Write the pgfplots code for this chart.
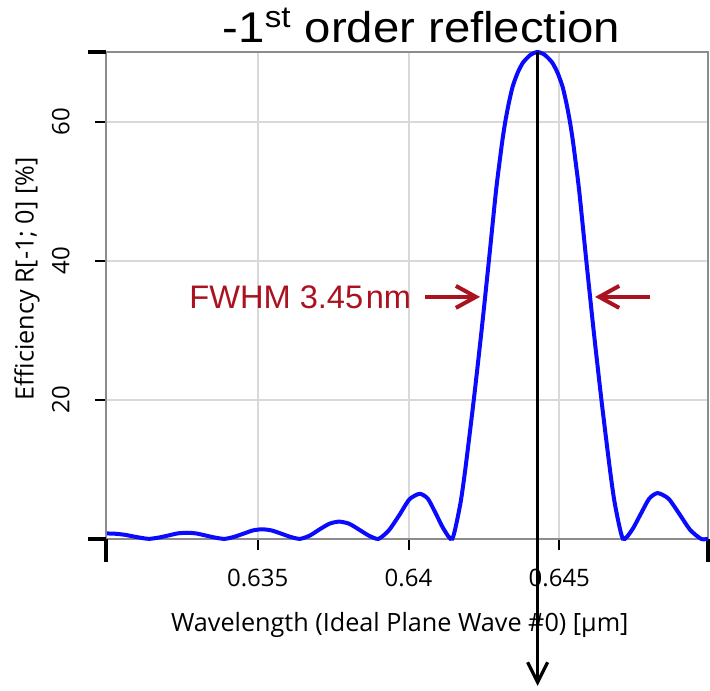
\documentclass[border=0pt]{standalone}
\usepackage{pgfplots}
\pgfplotsset{compat=1.18}
\usetikzlibrary{arrows.meta}
\usepackage{fontspec}
\setmainfont{Open Sans}
\newfontfamily\arial{Liberation Sans}
\definecolor{fwhmred}{RGB}{170,18,32}
\definecolor{curveblue}{RGB}{10,10,255}
\definecolor{gridgray}{RGB}{217,217,217}
\definecolor{axisgray}{RGB}{140,140,140}

\begin{document}
\begin{tikzpicture}
\path[use as bounding box] (-53pt,-75.5pt) rectangle (302pt,269.5pt);
\begin{axis}[
  at={(0,0)}, anchor=south west,
  width=301pt, height=243.5pt, scale only axis,
  xmin=0.62997, xmax=0.64993, ymin=0, ymax=70,
  xtick={0.635,0.64,0.645}, xticklabels={0.635,0.64,0.645},
  ytick={20,40,60}, yticklabels={20,40,60},
  scaled x ticks=false,
  /pgf/number format/assume math mode=true,
  grid=major, grid style={gridgray, line width=1pt},
  axis line style={axisgray, line width=1.2pt},
  tick pos=left, tick align=outside, major tick length=5.5pt,
  tick style={black, line width=1pt},
  extra x ticks={0.62997,0.64993}, extra x tick labels={},
  extra y ticks={0,70}, extra y tick labels={},
  extra x tick style={grid=none, major tick length=11.5pt, tick style={line width=2pt, black}},
  extra y tick style={grid=none, major tick length=9pt, tick style={line width=2pt, black}},
  ticklabel style={font=\fontsize{12}{14}\selectfont, inner sep=0pt},
  xticklabel shift=9.5pt,
  yticklabel shift=12.5pt,
  yticklabel style={rotate=90, anchor=south},
  xticklabel style={anchor=north},
  label style={font=\fontsize{12.6}{15}\selectfont},
  xlabel={Wavelength (Ideal Plane Wave \#0) [µm]},
  xlabel style={at={(axis description cs:0.488,0)}, anchor=base, yshift=-46.3pt},
  ylabel={Efficiency R[-1; 0] [\%]},
  ylabel style={at={(axis description cs:-0.1312,0.534)}, anchor=center},
  clip=false,
]
% -1st order efficiency curve
\addplot[curveblue, line width=2pt, smooth, tension=0.4] coordinates {
(0.6300,0.8)(0.6303,0.75)(0.6306,0.6)(0.6309,0.35)(0.6312,0.12)(0.6314,0.02)
(0.63171,0.2)(0.63203,0.5)(0.63234,0.8)(0.63265,0.9)(0.63296,0.8)(0.63328,0.5)(0.63359,0.2)(0.6339,0.02)
(0.63421,0.3)(0.63453,0.77)(0.63484,1.23)(0.63515,1.4)(0.63546,1.23)(0.63578,0.77)(0.63609,0.3)(0.6364,0.02)
(0.63673,0.5)(0.63705,1.38)(0.63738,2.2)(0.6377,2.5)(0.63803,2.2)(0.63835,1.38)(0.63868,0.5)(0.639,0.02)
(0.63934,1.2)(0.63969,3.4)(0.64003,5.7)(0.64037,6.5)(0.64064,5.8)(0.6409,3.7)(0.64117,1.4)(0.641454,0.05)
(0.641716,5)(0.641882,10)(0.642164,20)(0.642423,30)(0.642665,40)(0.6429,50)(0.643043,55)(0.643119,57.5)
(0.643209,60)(0.643318,62.5)(0.643451,65)(0.643617,67)(0.643799,68.5)(0.644048,69.6)(0.64428,70)
(0.644512,69.6)(0.644761,68.5)(0.644943,67)(0.645109,65)(0.645242,62.5)(0.645351,60)(0.645441,57.5)
(0.645517,55)(0.64566,50)(0.645895,40)(0.646137,30)(0.646396,20)(0.646678,10)(0.646844,5)(0.647106,0.05)
(0.64741,1.3)(0.6477,3.6)(0.64798,5.8)(0.64826,6.6)(0.64862,5.8)(0.64898,3.6)(0.64934,1.3)(0.6497,0.02)(0.64993,0.02)
};

% annotations
\node[anchor=base, font=\arial\fontsize{21.5}{24}\selectfont, inner sep=0pt, xscale=1.1]
  at (axis cs:0.64043,71.34) {-1\textsuperscript{st} order reflection};
\node[anchor=base west, font=\arial\fontsize{16.3}{18}\selectfont, text=fwhmred, inner sep=0pt]
  at (axis cs:0.63272,33.16) {FWHM 3.45\hspace{0.08em}nm};
\draw[fwhmred, line width=2pt, -{Straight Barb[length=10pt,width=11pt]}]
  (axis cs:0.640547,34.8) -- (axis cs:0.642371,34.8);
\draw[fwhmred, line width=2pt, -{Straight Barb[length=10pt,width=11pt]}]
  (axis cs:0.64801,34.8) -- (axis cs:0.646186,34.8);
\draw[black, line width=1.6pt, -{Straight Barb[length=10pt,width=10pt]}]
  (axis cs:0.64428,70) -- (axis cs:0.64428,-21.1);
\end{axis}
\end{tikzpicture}
\end{document}
